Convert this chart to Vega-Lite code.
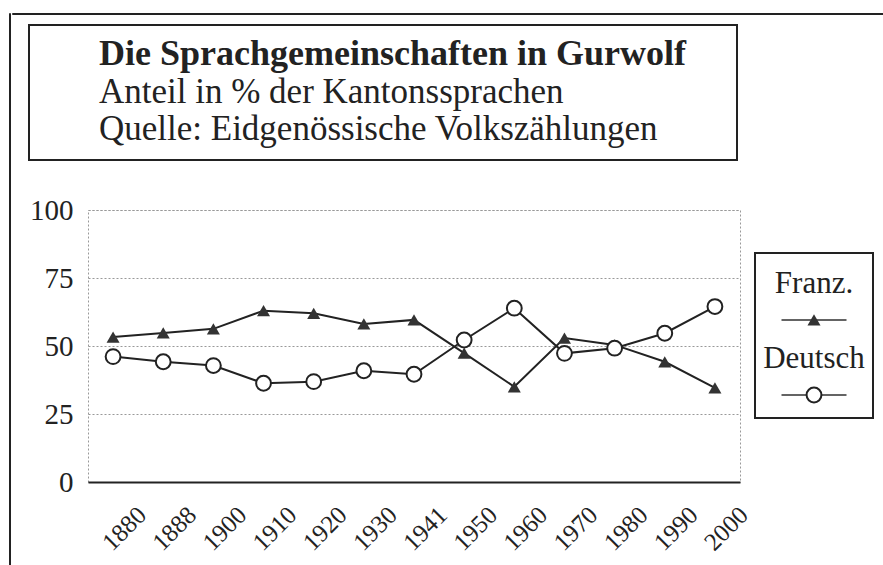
{
  "$schema": "https://vega.github.io/schema/vega-lite/v6.json",
  "padding": {"left": 8, "top": 12, "right": 0, "bottom": 0},
  "background": "white",
  "config": {
    "font": "Liberation Serif",
    "view": {"stroke": null}
  },
  "datasets": {
    "shares": [
      {"year": "1880", "lang": "Franz.", "pct": 53.3},
      {"year": "1888", "lang": "Franz.", "pct": 54.8},
      {"year": "1900", "lang": "Franz.", "pct": 56.3},
      {"year": "1910", "lang": "Franz.", "pct": 63.0},
      {"year": "1920", "lang": "Franz.", "pct": 62.0},
      {"year": "1930", "lang": "Franz.", "pct": 58.1},
      {"year": "1941", "lang": "Franz.", "pct": 59.6},
      {"year": "1950", "lang": "Franz.", "pct": 47.4},
      {"year": "1960", "lang": "Franz.", "pct": 35.0},
      {"year": "1970", "lang": "Franz.", "pct": 52.9},
      {"year": "1980", "lang": "Franz.", "pct": 50.4},
      {"year": "1990", "lang": "Franz.", "pct": 44.2},
      {"year": "2000", "lang": "Franz.", "pct": 34.6},
      {"year": "1880", "lang": "Deutsch", "pct": 46.1},
      {"year": "1888", "lang": "Deutsch", "pct": 44.2},
      {"year": "1900", "lang": "Deutsch", "pct": 42.8},
      {"year": "1910", "lang": "Deutsch", "pct": 36.3},
      {"year": "1920", "lang": "Deutsch", "pct": 36.9},
      {"year": "1930", "lang": "Deutsch", "pct": 40.9},
      {"year": "1941", "lang": "Deutsch", "pct": 39.6},
      {"year": "1950", "lang": "Deutsch", "pct": 52.2},
      {"year": "1960", "lang": "Deutsch", "pct": 63.9},
      {"year": "1970", "lang": "Deutsch", "pct": 47.3},
      {"year": "1980", "lang": "Deutsch", "pct": 49.2},
      {"year": "1990", "lang": "Deutsch", "pct": 54.7},
      {"year": "2000", "lang": "Deutsch", "pct": 64.5}
    ],
    "titlelines": [
      {"line": 1, "text": "Die Sprachgemeinschaften in Gurwolf", "kind": "title"},
      {"line": 2, "text": "Anteil in % der Kantonssprachen", "kind": "sub"},
      {"line": 3, "text": "Quelle: Eidgenössische Volkszählungen", "kind": "sub"}
    ],
    "legend": [
      {"lang": "Franz."},
      {"lang": "Deutsch"}
    ]
  },
  "spacing": 0,
  "hconcat": [
    {
      "width": 1,
      "height": 552,
      "view": {"stroke": "#222", "strokeWidth": 1},
      "data": {"name": "legend"},
      "mark": {"type": "point", "size": 0, "strokeWidth": 0, "opacity": 0}
    },
    {
      "spacing": 9,
      "vconcat": [
        {
          "width": 872,
          "height": 1,
          "view": {"stroke": "#222", "strokeWidth": 1},
          "data": {"name": "legend"},
          "mark": {"type": "point", "size": 0, "strokeWidth": 0, "opacity": 0}
        },
        {
          "spacing": 0,
          "hconcat": [
            {
              "width": 16,
              "height": 1,
              "data": {"name": "legend"},
              "mark": {"type": "point", "size": 0, "strokeWidth": 0, "opacity": 0}
            },
            {
              "spacing": 35,
              "vconcat": [
                {
                  "width": 708,
                  "height": 135,
                  "view": {"stroke": "#222", "strokeWidth": 2},
                  "data": {"name": "titlelines"},
                  "encoding": {
                    "y": {"field": "line", "type": "ordinal", "axis": null, "scale": {"type": "point", "padding": 0.8, "align": 0.667}},
                    "text": {"field": "text"}
                  },
                  "layer": [
                    {
                      "transform": [{"filter": "datum.kind === 'title'"}],
                      "mark": {"type": "text", "align": "left", "baseline": "alphabetic", "dx": -284, "fontSize": 36, "fontWeight": "bold", "color": "#222"}
                    },
                    {
                      "transform": [{"filter": "datum.kind === 'sub'"}],
                      "mark": {"type": "text", "align": "left", "baseline": "alphabetic", "dx": -284, "fontSize": 35, "color": "#222"}
                    }
                  ]
                },
                {
                  "spacing": 0,
                  "hconcat": [
                    {
                      "width": 58,
                      "height": 272,
                      "data": {"name": "shares"},
                      "mark": {"type": "point", "size": 0, "strokeWidth": 0, "opacity": 0},
                      "encoding": {
                        "y": {
                          "field": "pct", "type": "quantitative", "scale": {"domain": [0, 100]},
                          "axis": {"title": null, "offset": -58, "values": [0, 25, 50, 75, 100], "domain": false, "ticks": false, "grid": false, "labelFontSize": 29, "labelPadding": 14, "labelColor": "#222"}
                        }
                      }
                    },
                    {
                      "width": 652,
                      "height": 272,
                      "view": {"stroke": "#999", "strokeDash": [2, 2], "strokeWidth": 1},
                      "data": {"name": "shares"},
                      "encoding": {
                        "x": {
                          "field": "year", "type": "ordinal", "sort": null,
                          "axis": {"title": null, "labelAngle": -45, "labelFontSize": 25, "labelColor": "#222", "ticks": false, "domainColor": "#222", "domainWidth": 2, "labelPadding": 20, "labelOffset": 20, "grid": false}
                        },
                        "y": {
                          "field": "pct", "type": "quantitative", "scale": {"domain": [0, 100]},
                          "axis": {"title": null, "values": [0, 25, 50, 75, 100], "domain": false, "ticks": false, "labels": false, "grid": true, "gridColor": "#999", "gridDash": [2, 2]}
                        }
                      },
                      "layer": [
                        {"mark": {"type": "line", "color": "#222", "strokeWidth": 2}, "encoding": {"detail": {"field": "lang"}}},
                        {
                          "transform": [{"filter": "datum.lang === 'Franz.'"}],
                          "mark": {"type": "point", "shape": "triangle-up", "filled": true, "size": 170, "color": "#333", "opacity": 1}
                        },
                        {
                          "transform": [{"filter": "datum.lang === 'Deutsch'"}],
                          "mark": {"type": "point", "shape": "circle", "fill": "white", "stroke": "#222", "strokeWidth": 2, "size": 220, "opacity": 1}
                        }
                      ]
                    },
                    {
                      "spacing": 41,
                      "vconcat": [
                        {
                          "width": 118,
                          "height": 1,
                          "data": {"name": "legend"},
                          "mark": {"type": "point", "size": 0, "strokeWidth": 0, "opacity": 0}
                        },
                        {
                          "width": 118,
                          "height": 165,
                          "view": {"stroke": "#222", "strokeWidth": 2},
                          "data": {"name": "legend"},
                          "encoding": {
                            "y": {"field": "lang", "type": "nominal", "sort": ["Franz.", "Deutsch"], "axis": null, "scale": {"type": "point", "padding": 0.6, "align": 0.744}}
                          },
                          "layer": [
                            {"mark": {"type": "text", "fontSize": 31, "baseline": "alphabetic", "dy": -27, "color": "#222"}, "encoding": {"text": {"field": "lang"}}},
                            {"mark": {"type": "tick", "orient": "horizontal", "size": 65, "thickness": 2, "color": "#222"}},
                            {
                              "transform": [{"filter": "datum.lang === 'Franz.'"}],
                              "mark": {"type": "point", "shape": "triangle-up", "filled": true, "size": 170, "color": "#333", "opacity": 1}
                            },
                            {
                              "transform": [{"filter": "datum.lang === 'Deutsch'"}],
                              "mark": {"type": "point", "shape": "circle", "fill": "white", "stroke": "#222", "strokeWidth": 2, "size": 220, "opacity": 1}
                            }
                          ]
                        }
                      ]
                    }
                  ]
                }
              ]
            }
          ]
        }
      ]
    }
  ]
}
